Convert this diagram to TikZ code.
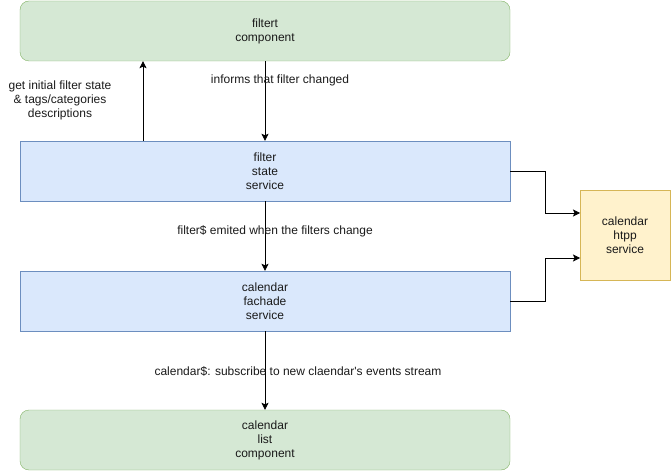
\documentclass[tikz,border=0pt]{standalone}
\usepackage{fontspec}
\setmainfont{Liberation Sans}
\usetikzlibrary{arrows.meta}

\definecolor{compfill}{HTML}{D5E8D4}
\definecolor{compline}{HTML}{82B366}
\definecolor{servfill}{HTML}{DAE8FC}
\definecolor{servline}{HTML}{6C8EBF}
\definecolor{httpfill}{HTML}{FFF2CC}
\definecolor{httpline}{HTML}{D6B656}
\definecolor{txt}{HTML}{1A1A1A}

\tikzset{
	component/.style={draw=compline, fill=compfill, rounded corners=9, minimum width=490, minimum height=60, inner sep=0, align=center, text=txt},
	service/.style={draw=servline, fill=servfill, minimum width=490, minimum height=60, inner sep=0, align=center, text=txt},
	httpbox/.style={draw=httpline, fill=httpfill, minimum width=90, minimum height=90, inner sep=0, align=center, text=txt},
	flowlabel/.style={align=center, inner sep=0, text=txt},
	flow/.style={black, line width=0.75, -{Stealth[length=7, width=7, inset=1.5]}},
}

\begin{document}
\begin{tikzpicture}[x=1pt, y=1pt, font=\fontsize{12}{14}\selectfont]

	\useasboundingbox (0, 0) rectangle (671, 471);

	% boxes
	\node[component] (filtert) at (265, 440) {filtert\\component};
	\node[service] (state) at (265, 300) {filter\\state\\service};
	\node[service] (fachade) at (265, 170) {calendar\\fachade\\service};
	\node[component] (list) at (265, 31) {calendar\\list\\component};
	\node[httpbox] (http) at (625, 236) {calendar\\htpp\\service};

	% helper points
	\coordinate (upx) at (143, 0);
	\coordinate (elbow) at (545, 0);
	\coordinate (httpin1) at (580, 258);
	\coordinate (httpin2) at (580, 213);

	% vertical arrows
	\draw[flow] (state.north -| upx) -- (filtert.south -| upx);
	\draw[flow] (filtert.south) -- (state.north);
	\draw[flow] (state.south) -- (fachade.north);
	\draw[flow] (fachade.south) -- (list.north);

	% to the http service
	\draw[flow] (state.east) -| (elbow |- httpin1) -- (httpin1);
	\draw[flow] (fachade.east) -| (elbow |- httpin2) -- (httpin2);

	% labels
	\node[flowlabel] (lblinit) at (60, 371) {get initial filter state\\\& tags/categories\\descriptions};
	\node[flowlabel] (lblinform) at (280, 391) {informs that filter changed};
	\node[flowlabel] (lblfilter) at (275, 240) {filter\$ emited when the filters change};
	\node[flowlabel] (lblcal) at (298, 100) {calendar\$: subscribe to new claendar\textquotesingle s events stream};

\end{tikzpicture}
\end{document}
